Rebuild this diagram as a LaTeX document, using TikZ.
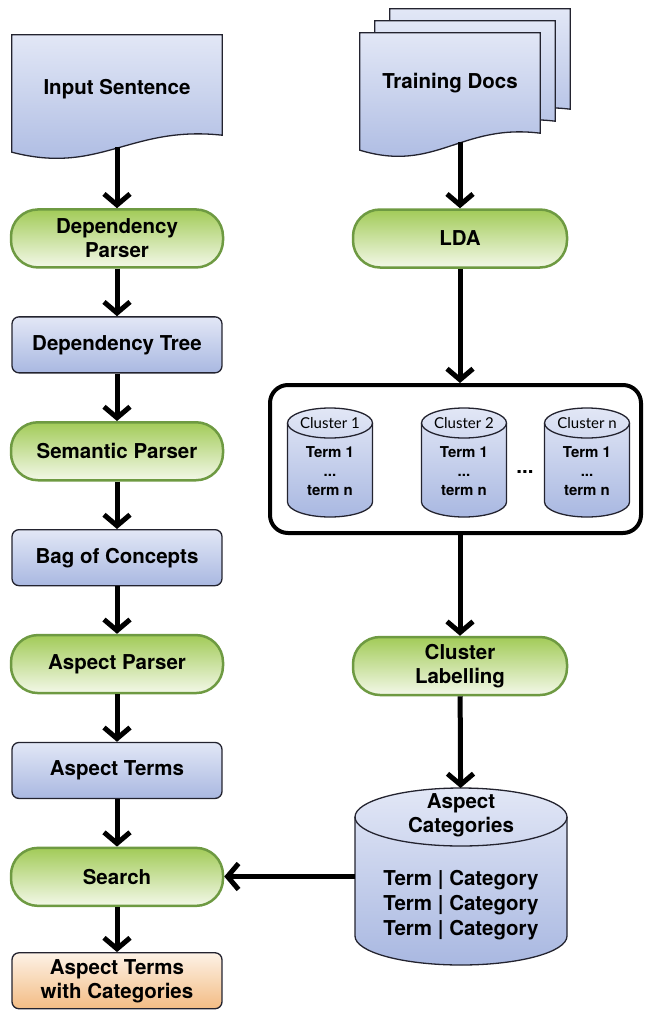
\documentclass[tikz,border=0pt]{standalone}
\usepackage{fontspec}
\setmainfont{TeX Gyre Heros}
\newfontfamily\clusterfont{Lato}
\usetikzlibrary{arrows.meta, positioning, calc, backgrounds}

\definecolor{boxtop}{HTML}{E2E7F6}
\definecolor{boxbot}{HTML}{A9B8E1}
\definecolor{boxline}{HTML}{23232F}
\definecolor{pilltop}{HTML}{A2CB58}
\definecolor{pillbot}{HTML}{F3F8E8}
\definecolor{pillline}{HTML}{6E9A42}
\definecolor{outtop}{HTML}{FDF2E6}
\definecolor{outbot}{HTML}{F3BC84}

\tikzset{
    flowchart/.style={x=1pt, y=1pt, font=\bfseries\fontsize{20.5}{24}\selectfont, node distance=47.5pt},
    flow/.style={line width=5pt, -{Straight Barb[length=11pt, width=26pt]}},
    docbox/.style={minimum width=180pt, minimum height=100pt, align=center},
    docbody/.style={draw=boxline, line width=1.3pt, top color=boxtop, bottom color=boxbot},
    procbox/.style={draw=boxline, line width=1.3pt, rounded corners=7pt, top color=boxtop, bottom color=boxbot,
        minimum width=210pt, minimum height=56pt, align=center},
    parser/.style={draw=pillline, line width=2.5pt, rounded corners=27pt, top color=pilltop, bottom color=pillbot,
        minimum width=212pt, minimum height=58pt, align=center},
    outbox/.style={procbox, top color=outtop, bottom color=outbot},
    cylnode/.style={inner sep=0pt, outer sep=0pt},
    cylbody/.style={draw=boxline, line width=1.3pt, top color=boxtop, bottom color=boxbot},
    cylline/.style={draw=boxline, line width=1.3pt},
    container/.style={draw, line width=4pt, rounded corners=18pt, minimum width=371pt, minimum height=148pt},
    cltitle/.style={font=\clusterfont\fontsize{15}{18}\selectfont},
    clterms/.style={font=\bfseries\fontsize{15}{19}\selectfont, align=center},
}

% page with a wavy bottom edge, drawn round a node
\newcommand{\docpath}[1]{%
    \path[docbody] (#1.north west) -- (#1.north east) -- (#1.south east)
        .. controls ($(#1.south east)!0.44!(#1.south west)+(0,10)$)
        and ($(#1.south east)!0.58!(#1.south west)+(0,-40)$)
        .. ($(#1.south west)+(0,-17)$) -- cycle;}

% drum drawn round a node: #2 = x radius, #3 = y radius of the ends
\newcommand{\cylpath}[3]{%
    \path[cylbody] ($(#1.north west)+(0,-#3)$) -- ($(#1.south west)+(0,#3)$)
        arc[start angle=180, end angle=360, x radius=#2, y radius=#3]
        -- ($(#1.north east)+(0,-#3)$)
        arc[start angle=0, end angle=180, x radius=#2, y radius=#3] -- cycle;
    \draw[cylline] ($(#1.north west)+(0,-#3)$)
        arc[start angle=180, end angle=360, x radius=#2, y radius=#3];}

\begin{document}
\begin{tikzpicture}[flowchart]
    \useasboundingbox (0,0) rectangle (647,-1010);

    % left column
    \node[docbox, minimum width=210pt, text height=24pt, text depth=5pt] (insent) at (117,-85) {Input Sentence};
    \node[parser, below=73pt of insent] (deppar)  {Dependency\\Parser};
    \node[procbox, below=of deppar]     (deptree) {Dependency Tree};
    \node[parser, below=of deptree]     (sempar)  {Semantic Parser};
    \node[procbox, below=of sempar]     (bagcon)  {Bag of Concepts};
    \node[parser, below=of bagcon]      (aspar)   {Aspect Parser};
    \node[procbox, below=of aspar]      (aspterm) {Aspect Terms};
    \node[parser, below=of aspterm]     (search)  {Search};
    \node[outbox, below=45pt of search] (result)  {Aspect Terms\\with Categories};

    % right column
    \node[docbox] (tdocs-c) at (480,-59) {};
    \node[docbox] (tdocs-b) at (465,-71) {};
    \node[docbox] (tdocs)   at (450,-83) {Training Docs};
    \node[parser, minimum width=214pt] (lda) at (460,-238.5) {LDA};
    \node[container] (clbox) at (455.5,-459) {};
    \foreach \cname/\cx/\cnum in {cla/330/1, clb/464/2, clc/587/n} {
        \node[cylnode, minimum width=85pt, minimum height=109pt] (\cname) at (\cx,-462.5) {};
        \cylpath{\cname}{42.5pt}{15pt}
        \node[cltitle] (\cname-title) at (\cx,-423) {Cluster \cnum};
        \node[clterms] (\cname-terms) at (\cx,-471) {Term 1\\...\\term n};
    }
    \node (cldots) at (525,-472) {...};
    \node[parser, minimum width=214pt] (clabel) at (460,-666) {Cluster\\Labelling};
    \node[cylnode, minimum width=212pt, minimum height=177pt] (aspcat) at (461,-876.5) {};
    \cylpath{aspcat}{106pt}{29pt}
    \node[align=center] (aspcat-title) at (461,-815.5) {Aspect\\Categories};
    \node[align=center] (aspcat-terms) at (461,-905) {Term | Category\\[1pt]Term | Category\\[1pt]Term | Category};

    \begin{scope}[on background layer]
        \docpath{tdocs-c}
        \docpath{tdocs-b}
        \docpath{tdocs}
        \docpath{insent}
    \end{scope}

    % connectors
    \coordinate (insent-tail) at ($(insent.south)+(0,-12)$);
    \draw[flow] (insent-tail) -- (deppar);
    \foreach \a/\b in {deppar/deptree, deptree/sempar, sempar/bagcon, bagcon/aspar,
                       aspar/aspterm, aspterm/search, search/result}
        \draw[flow] (\a) -- (\b);

    \coordinate (tdocs-tail) at ($(tdocs.south -| lda)+(0,-9)$);
    \draw[flow] (tdocs-tail) -- (lda);
    \draw[flow] (lda) -- (lda |- clbox.north);
    \draw[flow] (clbox.south -| clabel) -- (clabel);
    \draw[flow] (clabel) -- (aspcat);
    \draw[flow] (aspcat.west) -- (aspcat.west -| search.east);
\end{tikzpicture}
\end{document}
